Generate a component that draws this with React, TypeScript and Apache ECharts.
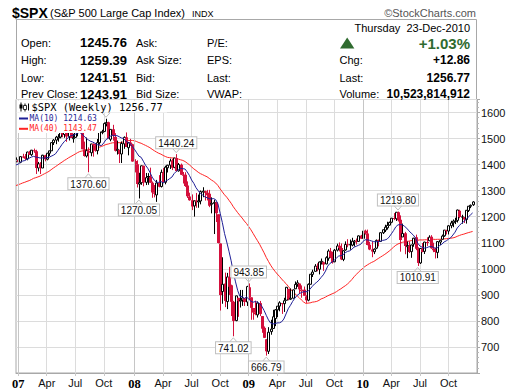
import React, { useEffect, useRef } from 'react';
import * as echarts from 'echarts';

// ---- DATA (weekly bars, week starting Monday 2006-12-25 .. 2010-12-20) ----
const firstWeekMonday = '2006-12-25';

// 39 weekly closes before the first bar (needed for the 40-week average)
const priorCloses2006 = [
  1294.83, 1295.5, 1289.12, 1311.28, 1310.61, 1325.76, 1291.24, 1267.03, 1280.16, 1288.22,
  1252.3, 1251.54, 1244.5, 1270.2, 1265.48, 1236.2, 1240.29, 1278.55, 1279.36, 1266.74,
  1302.3, 1295.09, 1311.01, 1298.92, 1319.66, 1314.78, 1335.85, 1349.59, 1365.62, 1368.6,
  1377.34, 1364.3, 1380.9, 1401.2, 1400.95, 1396.71, 1409.84, 1427.09, 1410.76,
];

const opens = [
  1410.75,
  // 2007
  1418.03, 1409.26, 1430.73, 1430.47, 1422.03, 1448.33, 1438.0, 1455.53, 1451.04, 1387.11,
  1402.8, 1386.95, 1436.11, 1420.83, 1443.77, 1452.84, 1484.33, 1494.07, 1505.57, 1505.76,
  1522.75, 1515.55, 1536.28, 1507.67, 1532.9, 1502.56, 1504.66, 1530.43, 1552.5, 1534.06,
  1458.93, 1433.04, 1453.42, 1445.55, 1479.36, 1473.96, 1453.5, 1484.24, 1525.75, 1527.29,
  1556.51, 1562.25, 1497.2, 1536.01, 1505.61, 1453.66, 1456.7, 1440.74, 1479.63, 1505.11,
  1465.05, 1484.88, 1478.1,
  // 2008
  1414.07, 1401.19, 1325.19, 1330.7, 1395.38, 1331.92, 1355.86, 1353.11, 1330.45, 1293.16,
  1283.66, 1329.51, 1315.92, 1370.16, 1332.2, 1387.72, 1397.96, 1415.34, 1389.4, 1425.28,
  1375.97, 1399.62, 1360.83, 1360.8, 1319.77, 1278.06, 1262.9, 1241.61, 1261.82, 1257.76,
  1260.37, 1296.32, 1298.14, 1292.2, 1287.83, 1249.5, 1250.92, 1255.37, 1209.07, 1097.56,
  912.75, 943.51, 874.28, 968.67, 936.75, 873.23, 801.2, 888.61, 876.07, 880.36,
  887.2, 872.37,
  // 2009
  929.17, 890.4, 849.64, 832.5, 823.09, 868.24, 818.48, 773.25, 729.57, 683.38,
  758.84, 771.0, 809.07, 842.5, 856.85, 868.27, 866.23, 879.21, 922.99, 886.07,
  887.0, 923.26, 940.35, 943.44, 918.13, 919.86, 894.27, 879.57, 940.57, 978.63,
  990.22, 1008.89, 998.18, 1026.59, 1025.21, 1018.67, 1040.46, 1067.14, 1045.38, 1026.87,
  1071.63, 1088.22, 1080.36, 1036.18, 1072.31, 1094.13, 1094.21, 1091.07, 1105.52, 1107.84,
  1105.24, 1127.53,
  // 2010
  1116.56, 1145.96, 1136.03, 1092.4, 1073.89, 1065.51, 1079.13, 1110.0, 1105.36, 1138.4,
  1148.53, 1157.25, 1167.71, 1178.71, 1194.94, 1192.06, 1217.07, 1188.58, 1122.27, 1136.52,
  1084.78, 1087.3, 1065.84, 1095.0, 1121.34, 1077.5, 1022.58, 1077.23, 1066.85, 1102.89,
  1107.53, 1122.8, 1077.56, 1073.36, 1062.9, 1102.6, 1113.38, 1126.57, 1148.64, 1144.96,
  1165.32, 1176.83, 1184.74, 1185.71, 1223.24, 1200.44, 1198.07, 1189.41, 1223.87, 1242.52,
  1245.76,
];

const highs = [
  1427.72,
  // 2007
  1429.42, 1431.57, 1441.61, 1440.69, 1449.33, 1452.99, 1456.22, 1461.57, 1456.95, 1410.28,
  1409.34, 1437.65, 1437.77, 1444.88, 1453.11, 1484.74, 1498.02, 1510.34, 1517.0, 1522.75,
  1529.31, 1540.56, 1540.0, 1538.71, 1540.48, 1518.48, 1532.4, 1555.1, 1555.9, 1547.23,
  1488.3, 1503.89, 1466.29, 1479.37, 1481.47, 1481.49, 1498.21, 1538.74, 1533.74, 1561.91,
  1576.09, 1564.74, 1535.31, 1552.76, 1520.76, 1492.14, 1456.7, 1488.94, 1508.3, 1523.57,
  1485.4, 1498.85, 1480.1,
  // 2008
  1420.7, 1416.64, 1368.56, 1396.02, 1396.02, 1367.94, 1367.28, 1388.34, 1335.13, 1321.68,
  1341.29, 1359.68, 1380.91, 1386.74, 1395.9, 1399.11, 1422.72, 1421.57, 1425.82, 1440.24,
  1406.32, 1404.05, 1371.63, 1370.63, 1335.63, 1292.17, 1285.63, 1262.31, 1291.17, 1284.93,
  1300.68, 1313.15, 1300.22, 1303.04, 1303.04, 1274.42, 1265.12, 1255.37, 1209.07, 1097.56,
  1044.31, 985.44, 984.38, 1007.51, 939.14, 876.92, 896.25, 888.61, 918.85, 918.85,
  887.37, 934.73,
  // 2009
  943.85, 890.4, 849.64, 877.86, 875.01, 876.64, 818.48, 778.69, 729.57, 775.96,
  804.47, 842.6, 845.61, 856.98, 875.63, 868.27, 888.7, 930.17, 922.99, 924.6,
  920.02, 951.51, 956.23, 943.44, 936.26, 931.92, 898.72, 943.96, 979.79, 996.68,
  1018.0, 1020.94, 1027.59, 1039.47, 1028.0, 1048.18, 1074.77, 1080.15, 1065.41, 1076.19,
  1096.56, 1101.36, 1097.2, 1071.48, 1105.37, 1113.69, 1112.38, 1119.13, 1110.72, 1116.21,
  1128.47, 1130.38,
  // 2010
  1145.91, 1150.41, 1150.45, 1103.69, 1104.73, 1078.46, 1112.42, 1112.29, 1139.04, 1150.24,
  1169.2, 1180.69, 1181.43, 1194.66, 1213.92, 1217.28, 1219.8, 1205.13, 1173.57, 1141.88,
  1104.95, 1105.67, 1092.1, 1119.08, 1131.23, 1082.6, 1079.62, 1099.08, 1103.73, 1120.95,
  1128.75, 1129.24, 1100.14, 1081.58, 1105.1, 1110.88, 1131.47, 1148.9, 1149.92, 1167.73,
  1184.38, 1189.43, 1196.14, 1227.08, 1226.84, 1207.43, 1198.94, 1225.57, 1240.97, 1246.73,
  1259.39,
];

const lows = [
  1410.45,
  // 2007
  1403.97, 1405.42, 1424.78, 1416.96, 1416.58, 1437.06, 1433.42, 1445.37, 1364.05, 1373.98,
  1363.98, 1386.95, 1412.7, 1416.37, 1433.33, 1452.84, 1475.35, 1478.6, 1488.06, 1500.74,
  1505.18, 1502.92, 1487.41, 1492.65, 1502.56, 1484.18, 1503.35, 1508.71, 1529.83, 1458.95,
  1430.46, 1427.39, 1370.6, 1432.01, 1430.54, 1449.55, 1439.29, 1476.48, 1516.64, 1527.25,
  1546.72, 1500.26, 1489.64, 1492.13, 1450.31, 1438.53, 1406.1, 1406.1, 1460.66, 1467.4,
  1435.65, 1471.51, 1411.19,
  // 2008
  1370.04, 1312.2, 1270.05, 1322.26, 1316.75, 1321.54, 1322.43, 1330.63, 1272.76, 1274.29,
  1256.98, 1312.81, 1312.14, 1331.11, 1324.35, 1369.84, 1383.07, 1379.05, 1386.2, 1373.07,
  1373.07, 1359.98, 1327.51, 1314.49, 1272.0, 1261.51, 1225.35, 1200.44, 1234.35, 1234.37,
  1247.45, 1274.86, 1261.99, 1262.45, 1236.75, 1212.87, 1133.5, 1179.63, 1097.56, 839.8,
  865.83, 852.85, 845.27, 899.73, 818.69, 741.02, 798.8, 815.69, 851.35, 857.72,
  857.09, 857.34,
  // 2009
  880.0, 804.3, 804.47, 821.67, 812.87, 818.41, 754.25, 734.52, 666.79, 672.88,
  747.02, 771.0, 779.81, 814.53, 836.93, 826.83, 834.44, 879.21, 878.94, 880.96,
  886.94, 923.26, 930.79, 903.78, 888.86, 896.42, 869.32, 875.32, 940.57, 968.65,
  990.22, 990.68, 978.51, 1016.2, 991.97, 1017.41, 1030.98, 1041.17, 1019.95, 1025.21,
  1066.46, 1066.61, 1033.38, 1029.38, 1069.3, 1082.81, 1073.14, 1086.25, 1085.89, 1093.04,
  1105.24, 1114.81,
  // 2010
  1116.56, 1131.39, 1090.18, 1071.59, 1044.5, 1056.51, 1075.51, 1086.02, 1105.36, 1133.55,
  1141.14, 1150.21, 1165.04, 1175.06, 1186.77, 1183.68, 1181.62, 1065.79, 1122.27, 1055.9,
  1040.78, 1060.5, 1042.17, 1084.78, 1071.66, 1010.91, 1018.35, 1063.32, 1056.88, 1088.01,
  1107.17, 1076.61, 1063.91, 1039.7, 1040.88, 1091.15, 1113.38, 1122.79, 1131.87, 1131.87,
  1155.71, 1159.71, 1171.7, 1177.65, 1194.08, 1173.0, 1176.0, 1173.64, 1218.0, 1232.85,
  1241.51,
];

const closes = [
  1418.3,
  // 2007
  1409.71, 1430.73, 1430.5, 1422.18, 1448.39, 1438.06, 1455.54, 1451.19, 1387.17, 1402.84,
  1386.95, 1436.11, 1420.86, 1443.76, 1452.85, 1484.35, 1494.07, 1505.62, 1505.85, 1522.75,
  1515.73, 1536.34, 1507.67, 1532.91, 1502.56, 1503.35, 1530.44, 1552.5, 1534.1, 1458.95,
  1433.06, 1453.64, 1445.94, 1479.37, 1473.99, 1453.55, 1484.25, 1525.75, 1526.75, 1557.59,
  1561.8, 1500.63, 1535.28, 1509.65, 1453.7, 1458.74, 1440.7, 1481.14, 1504.66, 1467.95,
  1484.46, 1478.49, 1411.63,
  // 2008
  1401.02, 1325.19, 1330.61, 1395.42, 1331.29, 1349.99, 1353.11, 1330.63, 1293.37, 1288.14,
  1329.51, 1315.22, 1370.4, 1332.83, 1390.33, 1397.84, 1413.9, 1388.28, 1425.35, 1375.93,
  1400.38, 1360.68, 1360.03, 1317.93, 1278.38, 1262.9, 1239.49, 1260.68, 1257.76, 1260.31,
  1296.32, 1298.2, 1292.2, 1282.83, 1242.31, 1251.7, 1255.08, 1213.27, 1099.23, 899.22,
  940.55, 876.77, 968.75, 930.99, 873.29, 800.03, 896.24, 876.07, 879.73, 887.88,
  872.8, 931.8,
  // 2009
  890.35, 850.12, 831.95, 825.88, 868.6, 826.84, 770.05, 735.09, 683.38, 756.55,
  768.54, 815.94, 842.5, 856.56, 869.6, 866.23, 877.52, 929.23, 882.88, 887.0,
  919.14, 940.09, 946.21, 921.23, 918.9, 896.42, 879.13, 940.38, 979.26, 987.48,
  1010.48, 1004.09, 1026.13, 1028.93, 1016.4, 1042.73, 1068.3, 1044.38, 1025.21, 1071.49,
  1087.68, 1079.6, 1036.19, 1069.3, 1093.48, 1091.38, 1091.49, 1105.98, 1106.41, 1102.47,
  1126.48, 1115.1,
  // 2010
  1144.98, 1136.03, 1091.76, 1073.87, 1066.19, 1075.51, 1109.17, 1104.49, 1138.7, 1149.99,
  1159.9, 1166.59, 1178.1, 1194.37, 1192.13, 1217.28, 1186.69, 1110.88, 1135.68, 1087.69,
  1089.41, 1064.88, 1091.6, 1117.51, 1076.76, 1022.58, 1077.96, 1064.88, 1102.66, 1101.6,
  1121.64, 1079.25, 1071.69, 1064.59, 1104.51, 1109.55, 1125.59, 1148.67, 1146.24, 1165.15,
  1176.19, 1183.08, 1183.26, 1225.85, 1199.21, 1199.73, 1189.4, 1224.71, 1240.4, 1243.91,
  1256.77,
];

// labelled highs / lows (week start date, value, side); the 2007 peak label is hidden under the legend
const annotationDates = ['2007-10-08', '2007-08-13', '2008-01-21', '2008-05-19', '2008-11-17', '2009-01-05', '2009-03-02', '2010-04-26', '2010-06-28'];
const annotationValues = [1576.09, 1370.6, 1270.05, 1440.24, 741.02, 943.85, 666.79, 1219.8, 1010.91];
const annotationSides = ['above', 'below', 'below', 'above', 'below', 'above', 'below', 'above', 'below'];
const annotationShown = [false, true, true, true, true, true, true, true, true];

const yTickLabels = [700, 800, 900, 1000, 1100, 1200, 1300, 1400, 1500, 1600];
const monthNames = ['Jan', 'Feb', 'Mar', 'Apr', 'May', 'Jun', 'Jul', 'Aug', 'Sep', 'Oct', 'Nov', 'Dec'];

const headerLeftLabels = ['Open:', 'High:', 'Low:', 'Prev Close:'];
const headerLeftValues = ['1245.76', '1259.39', '1241.51', '1243.91'];
const headerMidLabels = ['Ask:', 'Ask Size:', 'Bid:', 'Bid Size:'];
const headerRightLabels = ['P/E:', 'EPS:', 'Last:', 'VWAP:'];
const quoteLabels = ['Chg:', 'Last:', 'Volume:'];
const quoteValues = ['+12.86', '1256.77', '10,523,814,912'];

const RED = '#d4103c';
const MA10_COLOR = '#1e1e96';
const MA40_COLOR = '#ff2424';

export default function App() {
  const ref = useRef<HTMLDivElement>(null);
  useEffect(() => {
    if (!ref.current) return;
    const chart = echarts.init(ref.current, undefined, { renderer: 'svg' });

    const t0 = Date.parse(firstWeekMonday + 'T00:00:00Z');
    const dates = closes.map((_, i) => new Date(t0 + i * 7 * 86400000).toISOString().slice(0, 10));
    const categories = [...dates, 'pad1', 'pad2'];
    const quarterIdx = new Set<number>();
    const yearIdx = new Set<number>();
    dates.forEach((d, i) => {
      if (i === 0) return;
      const m = Number(d.slice(5, 7)) - 1;
      const pm = Number(dates[i - 1].slice(5, 7)) - 1;
      if (m !== pm && m % 3 === 0) {
        quarterIdx.add(i);
        if (m === 0) yearIdx.add(i);
      }
    });
    const isQuarter = (i: number) => quarterIdx.has(i);

    const all = [...priorCloses2006, ...closes];
    const off = priorCloses2006.length;
    const ma = (n: number) =>
      closes.map((_, i) => {
        let s = 0;
        for (let k = off + i - n + 1; k <= off + i; k++) s += all[k];
        return +(s / n).toFixed(2);
      });
    const ma10 = ma(10);
    const ma40 = ma(40);

    const candleData = closes.map((c, i) => [
      i, opens[i], c, lows[i], highs[i], i === 0 ? priorCloses2006[priorCloses2006.length - 1] : closes[i - 1],
    ]);
    const annData = annotationDates.map((d, k) => [dates.indexOf(d), annotationValues[k]]);

    const lbl = (text: string, x: number, y: number, font: string, align = 'left', fill = '#000') => ({
      type: 'text', x, y, z: 110,
      style: { text, font, fill, align, verticalAlign: 'middle' },
    });
    const rowsY = [42.5, 60, 77.5, 94];
    const graphics: any[] = [
      { type: 'rect', z: 0, shape: { x: 16.5, y: 19.5, width: 460, height: 80 }, style: { fill: '#fff', stroke: '#a8a8a8', lineWidth: 1 } },
      lbl('$SPX', 12, 13, 'bold 14px "Liberation Sans"'),
      lbl('(S&P 500 Large Cap Index)', 50, 13, '11px "Liberation Sans"'),
      lbl('INDX', 192, 13.5, '9px "Liberation Sans"'),
      lbl('\u00A9StockCharts.com', 476, 12.5, '11px "Liberation Sans"', 'right', '#555'),
      lbl('Thursday  23-Dec-2010', 470, 28, '11px "Liberation Sans"', 'right'),
      { type: 'polygon', z: 110, shape: { points: [[340, 48.5], [347.2, 37.5], [354.4, 48.5]] }, style: { fill: '#2f6b2f' } },
      lbl('+1.03%', 470, 43.5, 'bold 15px "Liberation Sans"', 'right', '#2f6b2f'),
    ];
    headerLeftLabels.forEach((t, k) => graphics.push(lbl(t, 21, rowsY[k], '11px "Liberation Sans"')));
    headerLeftValues.forEach((t, k) => graphics.push(lbl(t, 80, rowsY[k], 'bold 13px "Liberation Sans"')));
    headerMidLabels.forEach((t, k) => graphics.push(lbl(t, 136, rowsY[k], '11px "Liberation Sans"')));
    headerRightLabels.forEach((t, k) => graphics.push(lbl(t, 207, rowsY[k], '11px "Liberation Sans"')));
    quoteLabels.forEach((t, k) => graphics.push(lbl(t, 339.5, rowsY[k + 1], '11px "Liberation Sans"')));
    quoteValues.forEach((t, k) => graphics.push(lbl(t, 470, rowsY[k + 1], 'bold 12px "Liberation Sans"', 'right')));

    // legend block inside the price panel
    graphics.push(
      { type: 'rect', z: 100, shape: { x: 17, y: 100.5, width: 150, height: 12 }, style: { fill: '#fff' } },
      { type: 'rect', z: 100, shape: { x: 17, y: 112.5, width: 83, height: 20.5 }, style: { fill: '#fff' } },
      { type: 'line', z: 110, shape: { x1: 21, y1: 102.5, x2: 21, y2: 111.5 }, style: { stroke: '#000', lineWidth: 1 } },
      { type: 'rect', z: 110, shape: { x: 19.5, y: 104.5, width: 3, height: 4 }, style: { fill: '#000' } },
      { type: 'line', z: 110, shape: { x1: 25, y1: 103.5, x2: 25, y2: 111.5 }, style: { stroke: '#000', lineWidth: 1 } },
      { type: 'rect', z: 110, shape: { x: 23.5, y: 105.5, width: 3, height: 4 }, style: { fill: '#fff', stroke: '#000', lineWidth: 0.8 } },
      { type: 'line', z: 110, shape: { x1: 28.5, y1: 103.5, x2: 28.5, y2: 110.5 }, style: { stroke: '#000', lineWidth: 1 } },
      lbl('$SPX (Weekly) 1256.77', 31.5, 107.3, '10.4px "DejaVu Sans Mono"'),
      { type: 'line', z: 110, shape: { x1: 19, y1: 118.5, x2: 28, y2: 118.5 }, style: { stroke: MA10_COLOR, lineWidth: 2 } },
      lbl('MA(10) 1214.63', 29.5, 118.5, '8px "DejaVu Sans Mono"', 'left', MA10_COLOR),
      { type: 'line', z: 110, shape: { x1: 19, y1: 128.8, x2: 28, y2: 128.8 }, style: { stroke: MA40_COLOR, lineWidth: 2 } },
      lbl('MA(40) 1143.47', 29.5, 128.8, '8px "DejaVu Sans Mono"', 'left', MA40_COLOR),
    );

    chart.setOption({
      animation: false,
      backgroundColor: '#fff',
      grid: { left: 16, right: 43, top: 99.5, bottom: 18, show: true, borderColor: '#a8a8a8', borderWidth: 1, backgroundColor: 'transparent' },
      xAxis: {
        type: 'category',
        data: categories,
        boundaryGap: false,
        axisLine: { lineStyle: { color: '#a8a8a8' } },
        axisTick: { show: true, interval: (i: number) => isQuarter(i), length: 3, lineStyle: { color: '#c8c8c8' } },
        axisLabel: {
          interval: (i: number) => isQuarter(i),
          margin: 4,
          fontFamily: '"Liberation Sans"', fontSize: 11, color: '#111',
          formatter: (v: string, i: number) => {
            if (!quarterIdx.has(i)) return '';
            const m = Number(v.slice(5, 7)) - 1;
            return m === 0 ? '{y|' + v.slice(2, 4) + '}' : monthNames[m];
          },
          rich: { y: { fontFamily: '"Liberation Serif"', fontWeight: 'bold', fontSize: 12.5, color: '#000' } },
        },
        splitLine: { show: true, interval: (i: number) => isQuarter(i), lineStyle: { color: '#dcdcdc', width: 1 } },
      },
      yAxis: {
        type: 'value',
        position: 'right',
        min: 600,
        max: 1650,
        interval: 100,
        axisLine: { show: true, lineStyle: { color: '#a8a8a8' } },
        axisTick: { show: true, length: 3, lineStyle: { color: '#a8a8a8' } },
        minorTick: { show: true, splitNumber: 5, length: 2, lineStyle: { color: '#b8b8b8' } },
        axisLabel: {
          margin: 4, fontFamily: '"Liberation Sans"', fontSize: 11, color: '#111',
          formatter: (v: number) => (yTickLabels.indexOf(v) >= 0 ? String(v) : ''),
        },
        splitLine: { show: true, lineStyle: { color: '#dcdcdc', width: 1 } },
      },
      series: [
        {
          type: 'line', name: 'years', data: [], silent: true,
          markLine: {
            silent: true, symbol: 'none', label: { show: false },
            lineStyle: { color: '#c6c6c6', width: 1, type: 'solid' },
            data: Array.from(yearIdx).map((i) => ({ xAxis: dates[i] })),
          },
        },
        {
          type: 'line', name: 'MA(40)', data: ma40, showSymbol: false, symbol: 'none', z: 3,
          lineStyle: { color: MA40_COLOR, width: 1 }, silent: true,
        },
        {
          type: 'custom', name: '$SPX', z: 4, clip: true, silent: true,
          data: candleData,
          encode: { x: 0, y: [3, 4] },
          renderItem: (params: any, api: any) => {
            const i = api.value(0);
            const o = api.value(1), c = api.value(2), l = api.value(3), h = api.value(4), pc = api.value(5);
            const pO = api.coord([i, o]);
            const pC = api.coord([i, c]);
            const pL = api.coord([i, l]);
            const pH = api.coord([i, h]);
            const color = c >= pc ? '#000' : RED;
            const x = Math.round(pO[0]) + 0.5;
            const top = Math.min(pO[1], pC[1]);
            const bh = Math.max(Math.abs(pO[1] - pC[1]), 1);
            const hollow = c > o;
            return {
              type: 'group',
              children: [
                { type: 'line', shape: { x1: x, y1: pH[1], x2: x, y2: pL[1] }, style: { stroke: color, lineWidth: 1 } },
                hollow
                  ? { type: 'rect', shape: { x: x - 1, y: top, width: 2, height: bh }, style: { fill: '#fff', stroke: color, lineWidth: 1 } }
                  : { type: 'rect', shape: { x: x - 1.5, y: top, width: 3, height: bh }, style: { fill: color } },
              ],
            };
          },
        },
        {
          type: 'line', name: 'MA(10)', data: ma10, showSymbol: false, symbol: 'none', z: 5,
          lineStyle: { color: MA10_COLOR, width: 1 }, silent: true,
        },
        {
          type: 'custom', name: 'labels', z: 6, clip: false, silent: true,
          data: annData,
          encode: { x: 0, y: 1 },
          renderItem: (params: any, api: any) => {
            const k = params.dataIndex;
            const p = api.coord([api.value(0), api.value(1)]);
            const above = annotationSides[k] === 'above';
            const tipY = above ? p[1] - 1.5 : p[1] + 1.5;
            const baseY = above ? tipY - 4.5 : tipY + 4.5;
            const children: any[] = [
              {
                type: 'polyline',
                shape: { points: [[p[0] - 4, baseY], [p[0], tipY], [p[0] + 4, baseY]] },
                style: { stroke: '#c0c0c0', fill: null, lineWidth: 1 },
              },
            ];
            if (annotationShown[k]) {
              children.push({
                type: 'text', x: p[0], y: baseY,
                style: {
                  text: annotationValues[k].toFixed(2), font: '10px "Liberation Sans"', fill: '#111',
                  align: 'center', verticalAlign: above ? 'bottom' : 'top',
                  backgroundColor: '#fff', borderColor: '#c0c0c0', borderWidth: 1, padding: [1, 2, 0, 2],
                },
              });
            }
            return { type: 'group', children };
          },
        },
      ],
      graphic: graphics,
    });
    return () => chart.dispose();
  }, []);
  return <div ref={ref} style={{ width: 520, height: 391, position: 'absolute', left: 0, top: 0 }} />;
}
